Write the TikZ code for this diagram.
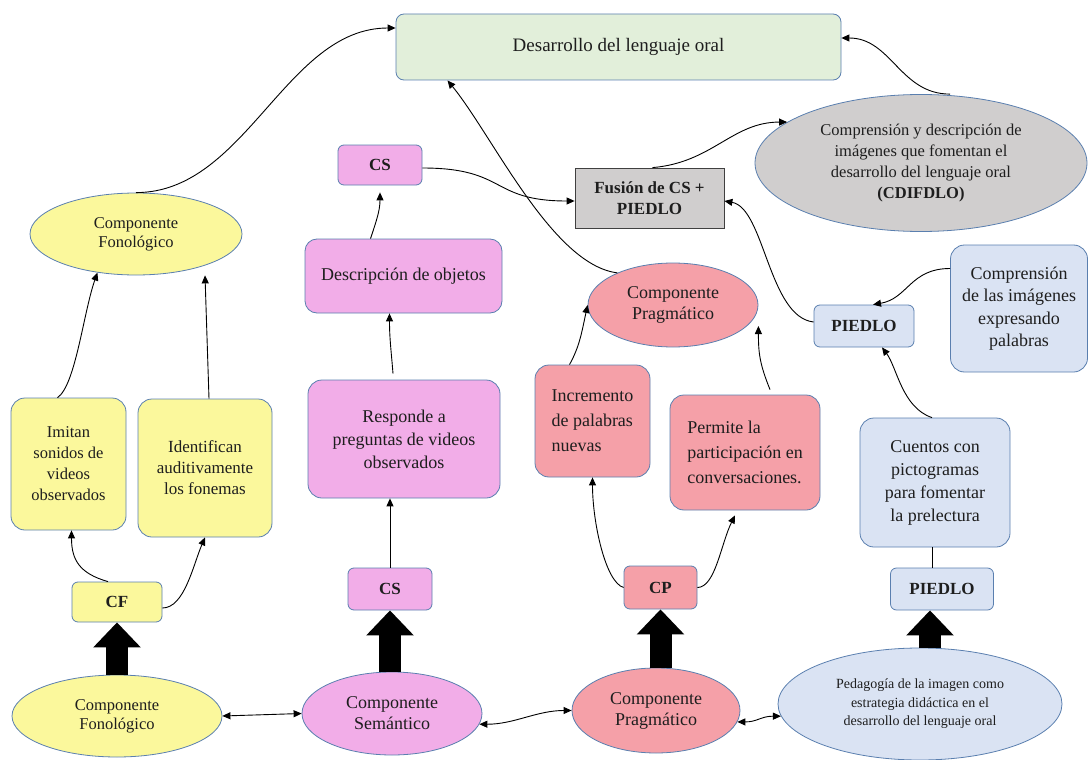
\documentclass[tikz,border=0pt]{standalone}
\usepackage{fontspec}
\setmainfont{Liberation Serif}
\usepackage{xcolor}
\usepackage{tikz}
\usetikzlibrary{shapes.geometric, arrows.meta}

\definecolor{edgeblue}{HTML}{5A7FAF}
\definecolor{greenfill}{HTML}{E2EFDA}
\definecolor{yellowfill}{HTML}{FBF89C}
\definecolor{pinkfill}{HTML}{F2ADE8}
\definecolor{salmonfill}{HTML}{F5A0A8}
\definecolor{bluefill}{HTML}{DAE3F3}
\definecolor{grayfill}{HTML}{D0CECE}
\definecolor{inkcol}{HTML}{1E1E1E}

\tikzset{
  boxbase/.style={draw=edgeblue, line width=0.8pt, align=center, inner sep=2pt, text=inkcol},
  roundbox/.style={boxbase, rounded corners=14pt, font=\fontsize{18}{23}\selectfont},
  tagbox/.style={boxbase, rounded corners=6pt, font=\bfseries\fontsize{17}{20}\selectfont},
  oval/.style={boxbase, ellipse, inner sep=0pt, font=\fontsize{18}{21}\selectfont},
  bigup/.style={line width=22pt, -{Triangle[length=25pt,width=46pt]}},
}

\begin{document}
\begin{tikzpicture}[x=1pt, y=-1pt, >={Triangle[length=8pt,width=7pt]}, line width=0.9pt]
    \useasboundingbox (0,0) rectangle (1088,760);

    % Top box
    \node[roundbox, fill=greenfill, rounded corners=8pt, minimum width=445pt, minimum height=66pt,
          font=\fontsize{19}{23}\selectfont] (desarrollo) at (618.5,47) {Desarrollo del lenguaje oral};

    % Fonologico column
    \node[oval, fill=yellowfill, minimum width=212pt, minimum height=82pt,
          font=\fontsize{16.5}{19}\selectfont] (fonoTop) at (136,234) {Componente\\Fonológico};
    \node[roundbox, fill=yellowfill, minimum width=115pt, minimum height=132pt,
          font=\fontsize{16.5}{21}\selectfont] (imitan) at (68.5,464) {Imitan\\sonidos de\\videos\\observados};
    \node[roundbox, fill=yellowfill, minimum width=134pt, minimum height=138pt,
          font=\fontsize{17}{21}\selectfont] (identif) at (205,468) {Identifican\\auditivamente\\los fonemas};
    \node[tagbox, fill=yellowfill, minimum width=90pt, minimum height=40pt] (cf) at (117,602) {CF};
    \node[oval, fill=yellowfill, minimum width=210pt, minimum height=82pt,
          font=\fontsize{16.5}{19}\selectfont] (fonoBot) at (117,716) {Componente\\Fonológico};

    % Semantico column
    \node[tagbox, fill=pinkfill, minimum width=84pt, minimum height=40pt] (csTop) at (380,165) {CS};
    \node[roundbox, fill=pinkfill, rounded corners=12pt, minimum width=197pt, minimum height=74pt] (descrip) at (403.5,276) {Descripción de objetos};
    \node[roundbox, fill=pinkfill, minimum width=192pt, minimum height=118pt] (responde) at (404,439) {Responde a\\preguntas de videos\\observados};
    \node[tagbox, fill=pinkfill, minimum width=84pt, minimum height=42pt] (csBot) at (390,589) {CS};
    \node[oval, fill=pinkfill, minimum width=180pt, minimum height=83pt] (semBot) at (392,713.5) {Componente\\Semántico};

    % Pragmatico column
    \node[draw=black!75, line width=0.8pt, fill=grayfill, align=center, text=inkcol, minimum width=149pt, minimum height=60pt,
          font=\bfseries\fontsize{17}{21}\selectfont] (fusion) at (649.5,198) {Fusión de CS +\\PIEDLO};
    \node[oval, fill=salmonfill, minimum width=170pt, minimum height=84pt] (pragTop) at (673,305) {Componente\\Pragmático};
    \node[roundbox, fill=salmonfill, align=left, minimum width=115pt, minimum height=112pt,
          font=\fontsize{18}{25}\selectfont] (incremento) at (592.5,421) {Incremento\\de palabras\\nuevas};
    \node[roundbox, fill=salmonfill, align=left, minimum width=150pt, minimum height=115pt,
          font=\fontsize{18}{25}\selectfont] (permite) at (745,452.5) {Permite la\\participación en\\conversaciones.};
    \node[tagbox, fill=salmonfill, minimum width=73pt, minimum height=43pt] (cp) at (660.5,587.5) {CP};
    \node[oval, fill=salmonfill, minimum width=168pt, minimum height=85pt] (pragBot) at (656,710.5) {Componente\\Pragmático};

    % PIEDLO column
    \node[oval, fill=grayfill, minimum width=332pt, minimum height=137pt,
          font=\fontsize{16.5}{21}\selectfont] (cdifdlo) at (921,163) {Comprensión y descripción de\\imágenes que fomentan el\\desarrollo del lenguaje oral\\\textbf{(CDIFDLO)}};
    \node[roundbox, fill=bluefill, minimum width=137pt, minimum height=127pt,
          font=\fontsize{18}{22.5}\selectfont] (compren) at (1019,308.5) {Comprensión\\de las imágenes\\expresando\\palabras};
    \node[tagbox, fill=bluefill, minimum width=100pt, minimum height=42pt] (piedloTop) at (864,326) {PIEDLO};
    \node[roundbox, fill=bluefill, minimum width=150pt, minimum height=129pt,
          font=\fontsize{18}{23}\selectfont] (cuentos) at (935,482.5) {Cuentos con\\pictogramas\\para fomentar\\la prelectura};
    \node[tagbox, fill=bluefill, minimum width=103pt, minimum height=42pt] (piedloBot) at (942,589) {PIEDLO};
    \node[oval, fill=bluefill, minimum width=284pt, minimum height=112pt,
          font=\fontsize{14}{18.5}\selectfont] (pedag) at (920,704) {Pedagogía de la imagen como\\estrategia didáctica en el\\desarrollo del lenguaje oral};

    % Block arrows from the bottom row
    \coordinate (pa) at ([xshift=-12pt]piedloBot.south);
    \draw[bigup] (fonoBot.north) -- (cf.south);
    \draw[bigup] (csBot.south |- semBot.north) -- (csBot.south);
    \draw[bigup] (cp.south |- pragBot.north) -- (cp.south);
    \draw[bigup] (pa |- pedag.north) -- (pa);

    % Bottom row links
    \draw[<->] (fonoBot.east) -- (semBot.west);
    \draw[<->] (semBot.-7) .. controls +(35,0) and +(-35,0) .. (pragBot.west);
    \draw[<->] (pragBot.-8) .. controls +(20,0) and +(-20,0) .. (pedag.185);

    % Fonologico links
    \draw[->] ([yshift=-6pt]cf.east) .. controls +(22,0) and +(-12,28) .. (identif.south);
    \draw[->] ([xshift=-9pt]cf.north) .. controls +(-28,-8) and +(0,30) .. ([xshift=3pt]imitan.south);
    \draw[->] ([xshift=-11pt]imitan.north) .. controls +(18,-12) and +(-14,40) .. (fonoTop.-135);
    \draw[->] ([xshift=4pt]identif.north) -- (identif.north |- fonoTop.south);
    \draw[->] (fonoTop.north) .. controls +(110,0) and +(-110,0) .. ([yshift=19pt]desarrollo.west);

    % Semantico links
    \draw[->] (csBot.north) -- (csBot.north |- responde.south);
    \draw[->] ([xshift=-11pt,yshift=6pt]responde.north) .. controls +(-2,-25) and +(0,25) .. ([xshift=-14pt]descrip.south);
    \draw[->] ([xshift=-33pt]descrip.north) .. controls +(6,-18) and +(0,18) .. ([yshift=-7pt]csTop.south);
    \draw[->] ([yshift=-3pt]csTop.east) .. controls +(85,0) and +(-85,0) .. ([yshift=-3pt]fusion.west);

    % Pragmatico links
    \draw[->] (cp.west) .. controls +(-18,-5) and +(0,45) .. (incremento.south);
    \draw[->] (cp.east) .. controls +(18,0) and +(-14,28) .. ([xshift=-10pt,yshift=-5pt]permite.south);
    \draw[->] ([xshift=-23pt]incremento.north) .. controls +(10,-18) and +(-6,28) .. (pragTop.west);
    \draw[->] ([xshift=25pt,yshift=5pt]permite.north) .. controls +(-10,-25) and +(0,28) .. ([yshift=-21pt]pragTop.east);
    \draw[->] (pragTop.150) .. controls +(-65,-8) and +(45,55) .. ([xshift=-171pt]desarrollo.south);

    % Fusion and CDIFDLO links
    \draw[->] ([xshift=3pt]fusion.north) .. controls +(60,-5) and +(-55,0) .. (cdifdlo.163);
    \draw[->] ([xshift=29pt]cdifdlo.north) .. controls +(-50,0) and +(50,0) .. ([yshift=9pt]desarrollo.east);

    % PIEDLO links
    \draw[->] ([yshift=4pt]piedloTop.west) .. controls +(-45,-5) and +(40,7) .. ([yshift=-3pt]fusion.east);
    \draw[->] ([yshift=40pt]compren.west) .. controls +(-40,0) and +(35,-6) .. ([xshift=9pt]piedloTop.north);
    \draw[->] ([xshift=-3pt]cuentos.north) .. controls +(-30,-10) and +(15,20) .. ([xshift=18pt]piedloTop.south);
    \draw ([xshift=-10pt]piedloBot.north) -- ([xshift=-10pt]piedloBot.north |- cuentos.south);

\end{tikzpicture}
\end{document}
